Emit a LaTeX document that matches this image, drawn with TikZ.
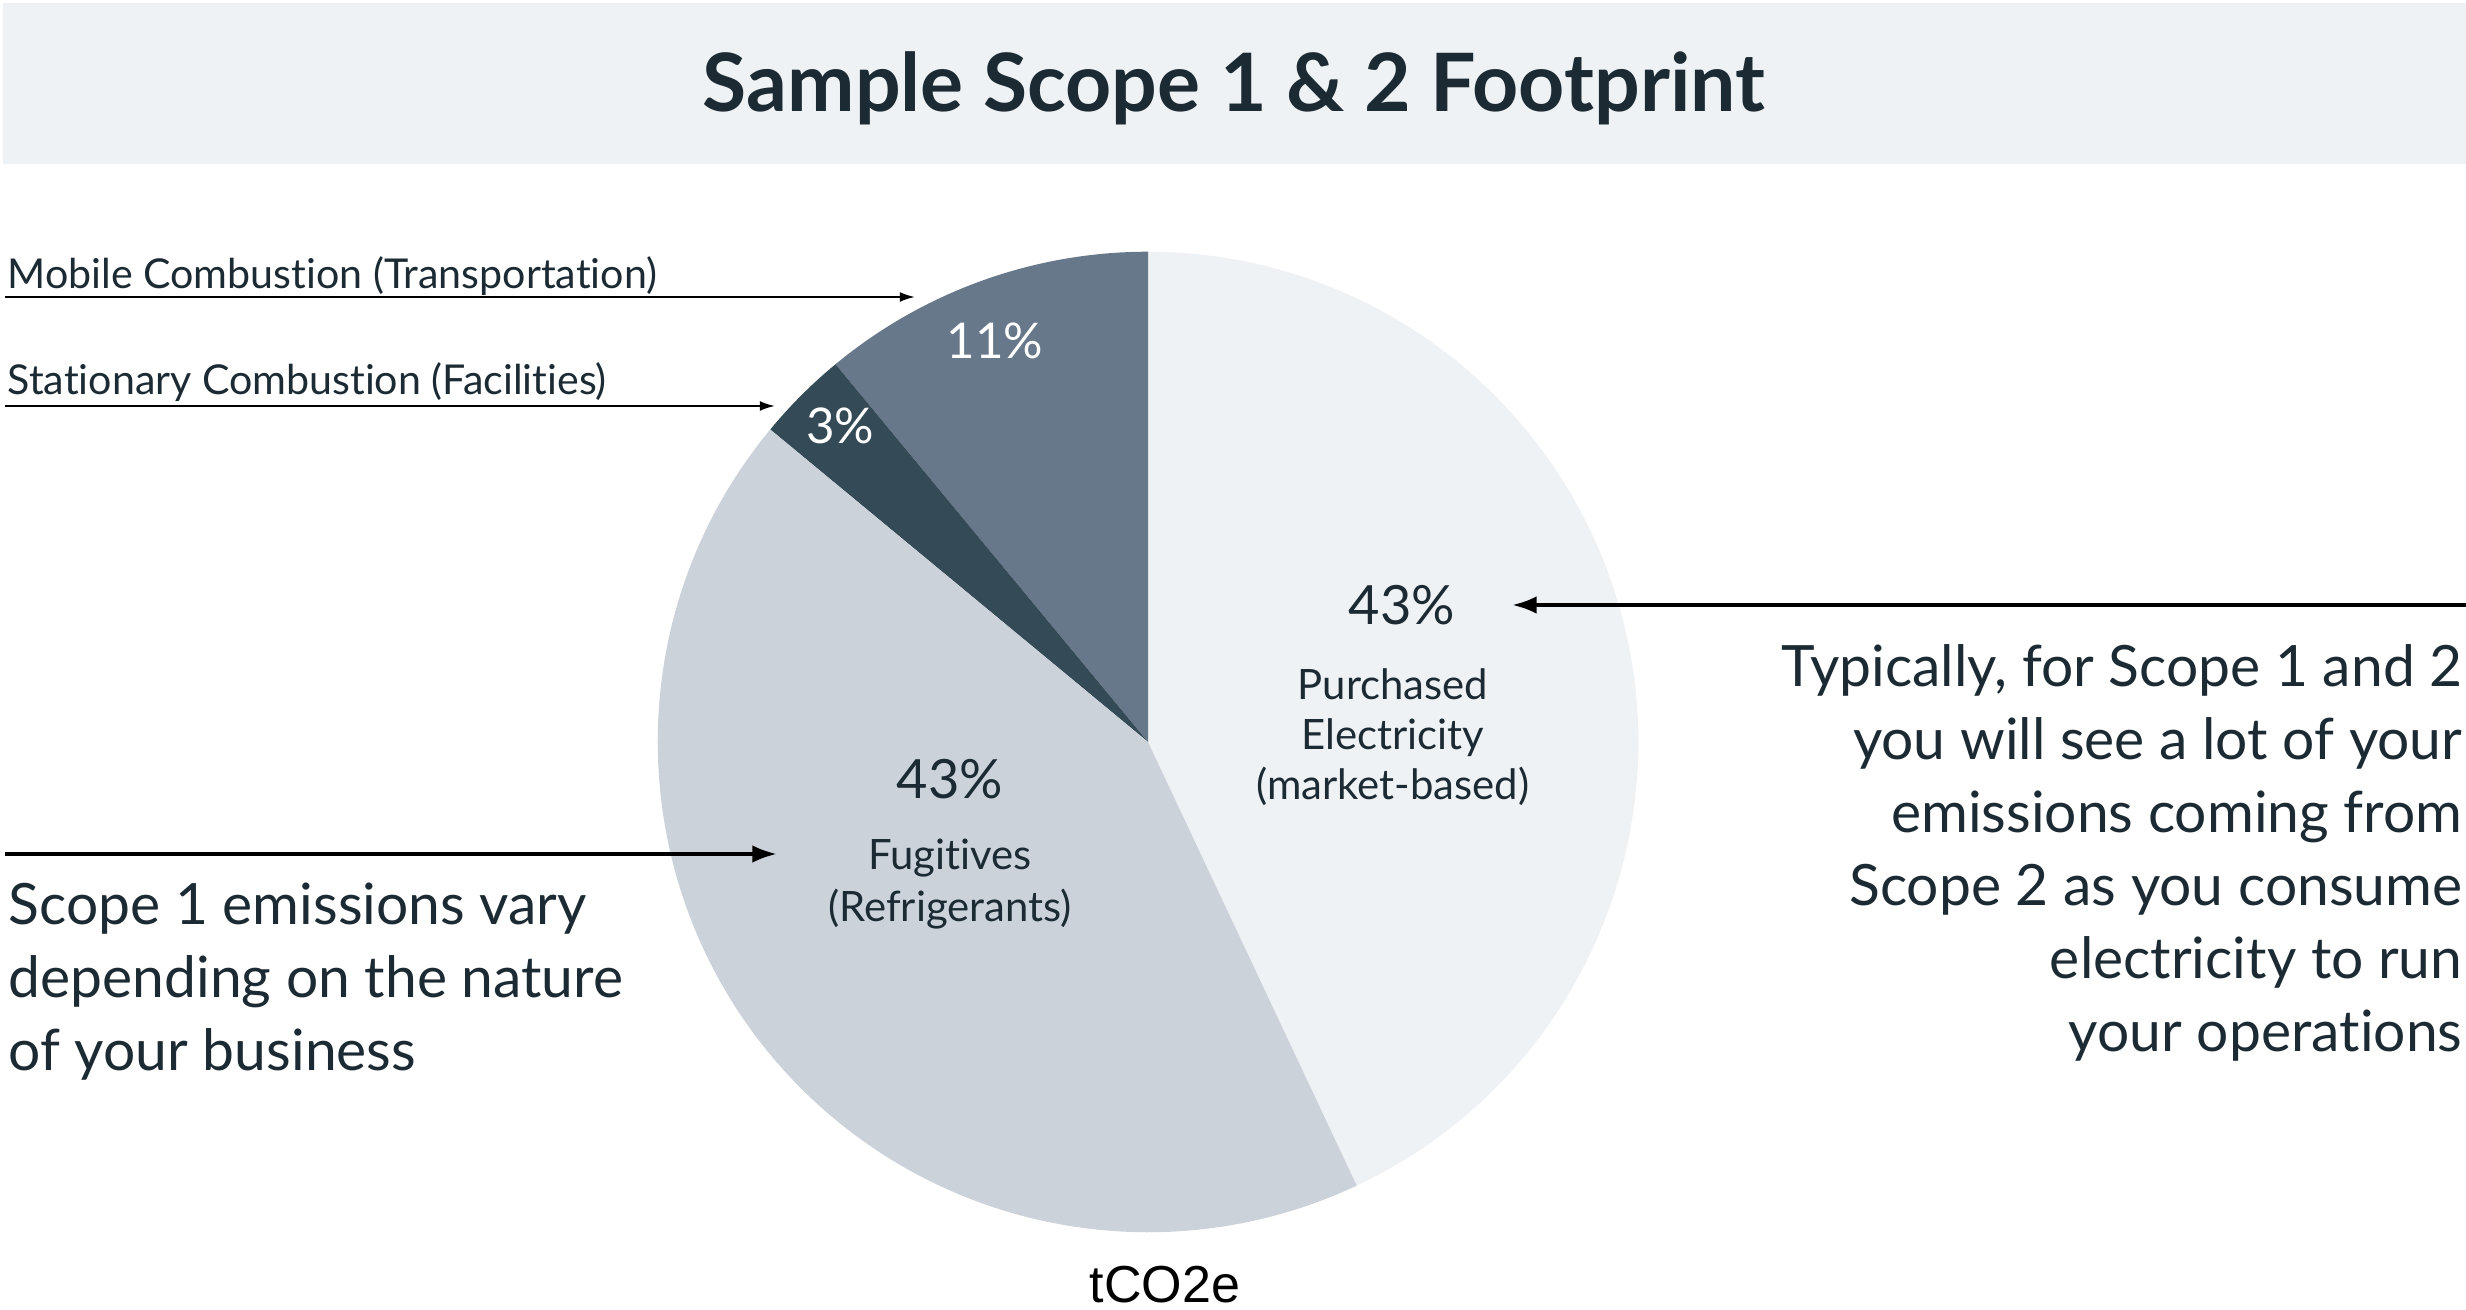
\documentclass[tikz,border=0pt]{standalone}
\usepackage{fontspec}
\setmainfont{Lato}[Ligatures={NoCommon,NoRequired,NoContextual}]
\newfontfamily\tcofont{Liberation Sans}
\usetikzlibrary{arrows.meta}
\definecolor{ink}{HTML}{1C2B33}
\definecolor{band}{HTML}{EEF2F5}
\definecolor{sPur}{HTML}{EEF2F5}
\definecolor{sFug}{HTML}{CBD2DA}
\definecolor{sMob}{HTML}{67788A}
\definecolor{sSta}{HTML}{344A56}
\tikzset{
  titletext/.style={font=\fontsize{22.9}{27}\selectfont\bfseries, text=ink, inner sep=0pt},
  lbl/.style={font=\fontsize{11.7}{14}\selectfont, text=ink, inner sep=0pt},
  pct/.style={font=\fontsize{14}{17}\selectfont, inner sep=0pt},
  bigpct/.style={font=\fontsize{15.4}{18}\selectfont, inner sep=0pt},
  cat/.style={font=\fontsize{11.9}{14.2}\selectfont, text=ink, inner sep=0pt, align=center},
  para/.style={font=\fontsize{16.2}{20.8}\selectfont, text=ink, inner sep=0pt},
  thinarrow/.style={line width=0.57pt, -{Latex[length=4.3pt,width=2.8pt]}},
  thickarrow/.style={line width=1.1pt, -{Latex[length=7pt,width=5pt]}},
}
\begin{document}
\begin{tikzpicture}[x=0.01cm,y=-0.01cm]
\useasboundingbox (0,0) rectangle (2466,1310);
% title band
\fill[band] (3,3) rectangle (2466,164);
\node[titletext, anchor=base] (title) at (1234,112) {Sample Scope 1 \& 2 Footprint};
% pie
\coordinate (pc) at (1148,742);
\fill[sPur] (pc) -- ++(-64.8:4.9cm) arc[start angle=-64.8, end angle=90, radius=4.9cm] -- cycle;
\fill[sMob] (pc) -- ++(90:4.9cm) arc[start angle=90, end angle=129.6, radius=4.9cm] -- cycle;
\fill[sSta] (pc) -- ++(129.6:4.9cm) arc[start angle=129.6, end angle=140.4, radius=4.9cm] -- cycle;
\fill[sFug] (pc) -- ++(140.4:4.9cm) arc[start angle=140.4, end angle=295.2, radius=4.9cm] -- cycle;
% slice labels
\node[pct, text=white, anchor=base] (p11) at (995,359) {11\%};
\node[pct, text=white, anchor=base] (p3) at (840,444) {3\%};
\node[bigpct, text=ink, anchor=base] (p43r) at (1402,625) {43\%};
\node[cat, anchor=base] (pur1) at (1393,700) {Purchased};
\node[cat, anchor=base] (pur2) at (1393,750) {Electricity};
\node[cat, anchor=base] (pur3) at (1393,800) {(market-based)};
\node[bigpct, text=ink, anchor=base] (p43l) at (950,799) {43\%};
\node[cat, anchor=base] (fug1) at (950,870) {Fugitives};
\node[cat, anchor=base] (fug2) at (950,922) {(Refrigerants)};
\node[font=\tcofont\fontsize{14.8}{17}\selectfont, inner sep=0pt, anchor=base] (unit) at (1165,1302) {tCO2e};
% left labels and arrows
\node[lbl, anchor=base west] (mob) at (7,289) {Mobile Combustion (Transportation)};
\node[lbl, anchor=base west] (sta) at (7,395) {Stationary Combustion (Facilities)};
\coordinate (mobS) at (5,297);
\coordinate (mobE) at (915,297);
\coordinate (staS) at (5,406);
\coordinate (staE) at (775,406);
\draw[thinarrow] (mobS) -- (mobE);
\draw[thinarrow] (staS) -- (staE);
% left note
\coordinate (s1S) at (5,854);
\coordinate (s1E) at (777,854);
\draw[thickarrow] (s1S) -- (s1E);
\node[para, anchor=base west, align=left] (s1note) at (8,1071) {Scope 1 emissions vary\\depending on the nature\\of your business};
% right note
\coordinate (s2S) at (2466,605);
\coordinate (s2E) at (1512,605);
\draw[thickarrow] (s2S) -- (s2E);
\node[para, anchor=base east, align=right] (s2note) at (2463,1052) {Typically, for Scope 1 and 2\\you will see a lot of your\\emissions coming from\\Scope 2 as you consume\\electricity to run\\your operations};
\end{tikzpicture}
\end{document}
